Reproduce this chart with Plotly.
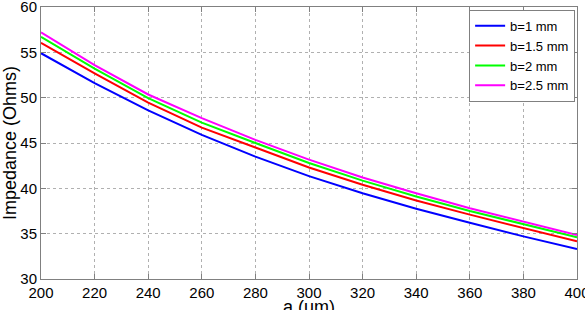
import plotly.graph_objects as go

a_um = [200, 220, 240, 260, 280, 300, 320, 340, 360, 380, 400]
z_b1 = [54.9, 51.6, 48.6, 45.9, 43.5, 41.35, 39.45, 37.75, 36.2, 34.7, 33.3]
z_b15 = [56.05, 52.67, 49.45, 46.7, 44.5, 42.3, 40.4, 38.65, 37.1, 35.6, 34.15]
z_b2 = [56.7, 53.2, 49.95, 47.25, 45.0, 42.8, 40.85, 39.1, 37.5, 36.05, 34.6]
z_b25 = [57.2, 53.6, 50.35, 47.75, 45.35, 43.17, 41.2, 39.45, 37.8, 36.3, 34.85]
y_ticks = [30, 35, 40, 45, 50, 55, 60]

series = [
    ("b=1 mm", z_b1, "#0000ff"),
    ("b=1.5 mm", z_b15, "#ff0000"),
    ("b=2 mm", z_b2, "#00ff00"),
    ("b=2.5 mm", z_b25, "#ff00ff"),
]

fig = go.Figure()
for name, ys, col in series:
    fig.add_trace(go.Scatter(x=a_um, y=ys, mode="lines", name=name,
                             line=dict(color=col, width=2)))

FONT = "Liberation Sans, Arial"
axis_common = dict(
    showline=True, linecolor="#808080", linewidth=1, mirror="ticks",
    ticks="inside", ticklen=5, tickcolor="#808080",
    showgrid=True, gridcolor="#b0b0b0", griddash="dot", gridwidth=1,
    zeroline=False, automargin=False, ticklabeloverflow="allow",
    tickfont=dict(family=FONT, size=15, color="#000000"),
)

fig.update_layout(
    width=585, height=310,
    margin=dict(l=41, r=8, t=7, b=31),
    paper_bgcolor="white", plot_bgcolor="white",
    font=dict(family=FONT, color="#000000"),
    xaxis=dict(range=[200, 400], tickvals=a_um, ticktext=[str(v) for v in a_um],
               **axis_common),
    yaxis=dict(range=[30, 60], tickvals=y_ticks, ticktext=[str(v) for v in y_ticks],
               title=dict(text="Impedance (Ohms)", font=dict(size=18), standoff=3),
               **axis_common),
    legend=dict(x=0.9965, y=0.99, xanchor="right", yanchor="top",
                bgcolor="white", bordercolor="#808080", borderwidth=1,
                font=dict(size=13, family=FONT), itemwidth=30,
                tracegroupgap=0),
    showlegend=True,
    annotations=[dict(text="a (um)", xref="paper", yref="paper", x=0.5, y=0,
                      xanchor="center", yanchor="top", yshift=-16,
                      showarrow=False, font=dict(size=18, family=FONT))],
)

fig.write_html("out.html")
